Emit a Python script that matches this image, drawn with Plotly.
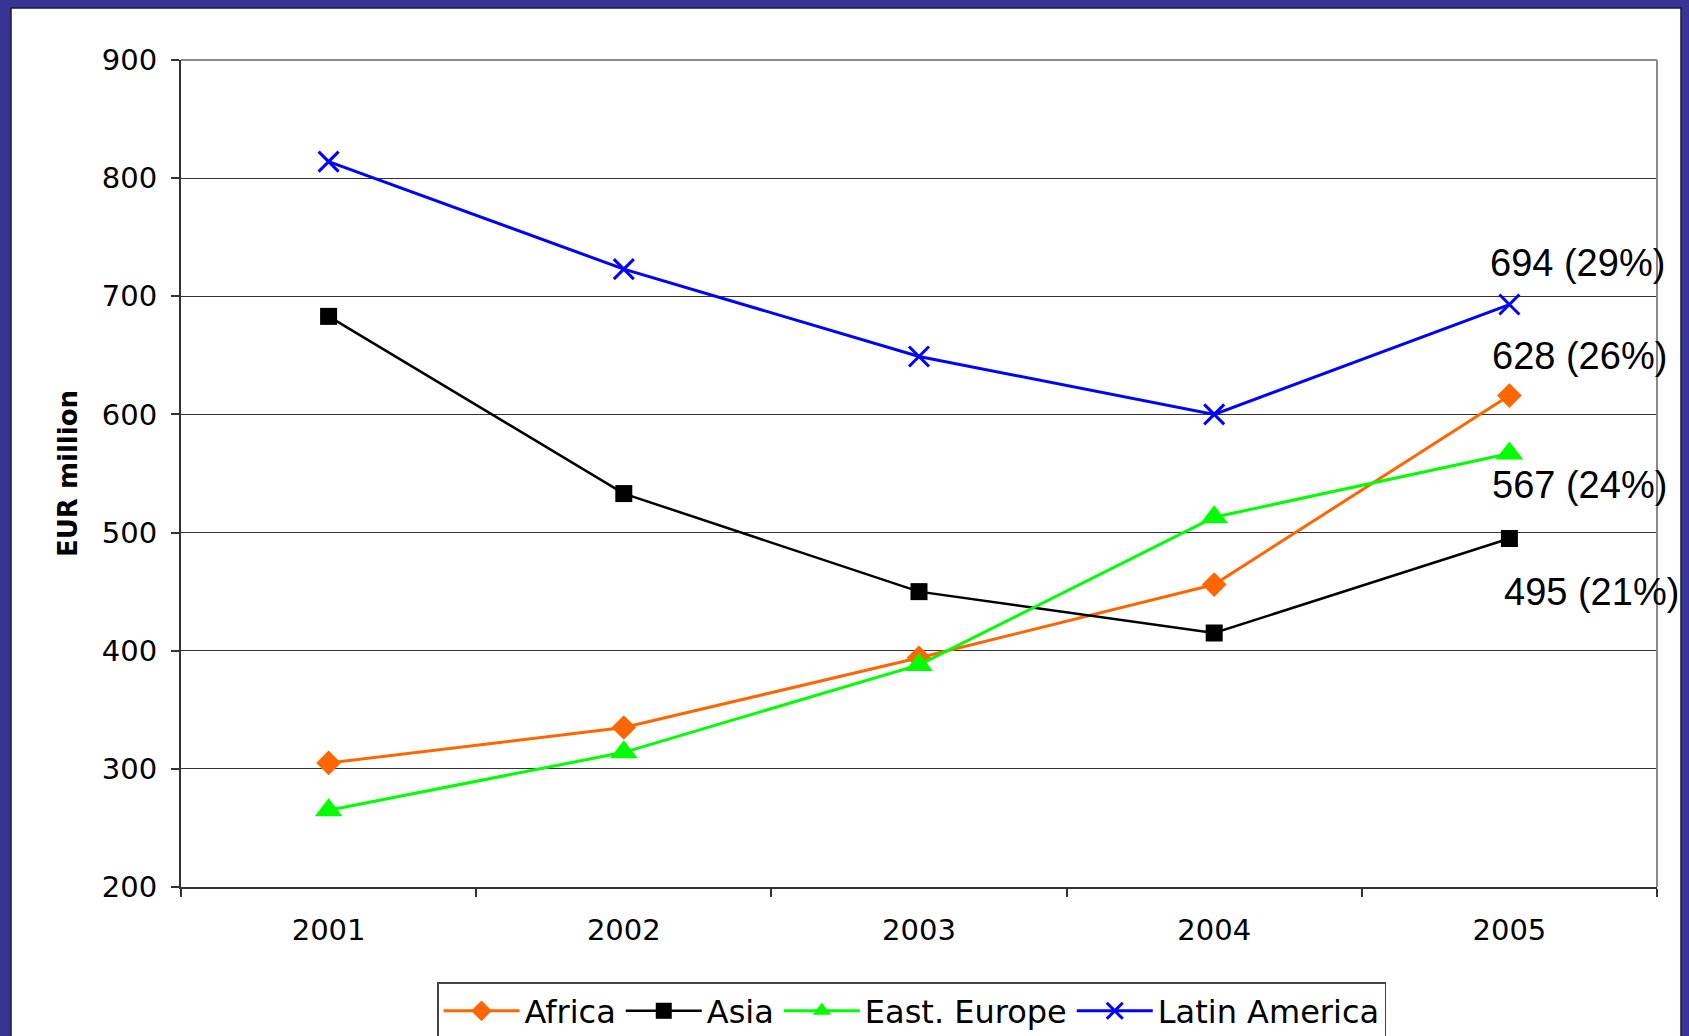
import plotly.graph_objects as go

years = ["2001", "2002", "2003", "2004", "2005"]
africa = [305, 335, 394, 456, 616]
asia = [683, 533, 450, 415, 495]
east_europe = [265, 314, 388, 513, 567]
latin_america = [814, 723, 649, 600, 693]

y_ticks = [200, 300, 400, 500, 600, 700, 800, 900]

end_labels = ["694 (29%)", "628 (26%)", "567 (24%)", "495 (21%)"]

W, H = 1689, 1036
L, R, T, B = 181, 1657, 60, 887
pw, ph = R - L, B - T

def px_x(p):
    return (p - L) / pw

def px_y(p):
    return (B - p) / ph

fig = go.Figure()

series = [
    ("Africa", africa, "#FF6600", dict(symbol="diamond", size=19), 3),
    ("Asia", asia, "#000000", dict(symbol="square", size=17), 2.5),
    ("East. Europe", east_europe, "#00FF00", dict(symbol="triangle-up", size=24), 3),
    ("Latin America", latin_america, "#0000FF",
     dict(symbol="x-thin", size=20, line=dict(width=3, color="#0000FF")), 3),
]
for name, vals, col, mk, lw in series:
    mk = dict(mk)
    mk["color"] = col
    fig.add_trace(go.Scatter(x=years, y=vals, name=name, mode="lines+markers",
                             line=dict(color=col, width=lw), marker=mk))

# end labels anchored to the 2005 values (category index of 2005)
last_idx = len(years) - 1
label_specs = [
    (latin_america[-1], end_labels[0], 68, 42),
    (africa[-1], end_labels[1], 70, 40),
    (east_europe[-1], end_labels[2], 70, -32),
    (asia[-1], end_labels[3], 82, -54),
]
for val, txt, xs, ys in label_specs:
    fig.add_annotation(x=last_idx, y=val, xref="x", yref="y", text=txt,
                       showarrow=False, xshift=xs, yshift=ys,
                       xanchor="center", yanchor="middle",
                       font=dict(family="Liberation Sans, Arial", size=38, color="black"))

# y axis title
fig.add_annotation(x=px_x(67.5), y=0.5, xref="paper", yref="paper", text="<b>EUR million</b>",
                   textangle=-90, showarrow=False, xanchor="center", yanchor="middle",
                   font=dict(family="DejaVu Sans", size=26, color="black"))

shapes = [
    # white card on blue frame
    dict(type="rect", xref="paper", yref="paper", x0=px_x(11), x1=px_x(1681),
         y0=px_y(1070), y1=px_y(8), fillcolor="white",
         line=dict(color="#1b1a3f", width=1.5), layer="below"),
    # top and right gray frame of plot area
    dict(type="line", xref="paper", yref="paper", x0=0, x1=1, y0=1, y1=1,
         line=dict(color="#8a8a8a", width=2)),
    dict(type="line", xref="paper", yref="paper", x0=1, x1=1, y0=0, y1=1,
         line=dict(color="#8a8a8a", width=2)),
]

fig.update_layout(
    width=W, height=H,
    margin=dict(l=L, r=W - R, t=T, b=H - B, autoexpand=False),
    paper_bgcolor="#373494",
    plot_bgcolor="white",
    shapes=shapes,
    showlegend=True,
    legend=dict(orientation="h", x=px_x(437), y=px_y(982), xanchor="left", yanchor="top",
                bordercolor="#444444", borderwidth=1.5, bgcolor="white",
                font=dict(family="DejaVu Sans", size=32, color="black"),
                itemwidth=76, tracegroupgap=0),
    xaxis=dict(type="category", range=[-0.5, 4.5], tickson="boundaries",
               showline=True, linecolor="#333333", linewidth=2,
               ticks="outside", ticklen=8, tickwidth=1.5, tickcolor="#333333",
               showgrid=False, ticklabelstandoff=16,
               tickfont=dict(family="DejaVu Sans", size=29, color="black")),
    yaxis=dict(range=[200, 900], tickvals=y_ticks,
               showline=True, linecolor="#333333", linewidth=2,
               ticks="outside", ticklen=8, tickwidth=1.5, tickcolor="#333333",
               showgrid=True, gridcolor="#333333", gridwidth=1.3,
               zeroline=False, ticklabelstandoff=8,
               tickfont=dict(family="DejaVu Sans", size=29, color="black")),
)

fig.write_html("out.html")
